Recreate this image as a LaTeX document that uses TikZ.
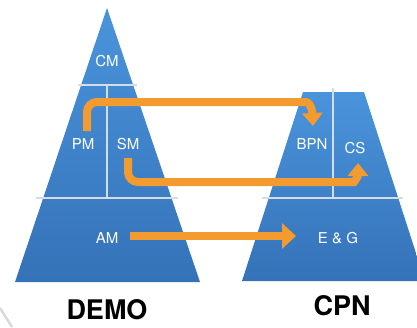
\documentclass[tikz,border=0pt]{standalone}
\usepackage{fontspec}
\setmainfont{TeX Gyre Heros}
\usetikzlibrary{arrows.meta}
\definecolor{pyrtop}{HTML}{4A94DC}
\definecolor{pyrbot}{HTML}{3572B8}
\definecolor{orng}{HTML}{F39B2E}
\definecolor{divline}{HTML}{D4DDE6}
\tikzset{
  pyr/.style={top color=pyrtop,bottom color=pyrbot,draw=none},
  lbl/.style={text=white,font=\fontsize{15}{15}\selectfont,inner sep=0pt},
  title/.style={text=black,font=\fontsize{27}{27}\selectfont\bfseries,inner sep=0pt},
  divider/.style={draw=divline,line width=1.2pt},
  flow/.style={draw=orng,line width=8pt,rounded corners=10pt},
  headA/.style={-{Triangle[width=20pt,length=13pt]}},
  headB/.style={-{Triangle[width=25pt,length=14pt]}}
}
\begin{document}
\begin{tikzpicture}[x=1pt,y=-1pt]
\useasboundingbox (0,0) rectangle (417,327);
\fill[white] (0,0) rectangle (417,327);
% faint corner stroke
\draw[gray!30,line width=2.5pt] (0,308) -- (12,327);
% DEMO pyramid
\path[pyr] (107,8) -- (200,282) -- (15,282) -- cycle;
\draw[divider] (78,85) -- (137,85);
\draw[divider] (36,198) -- (178,198);
\draw[divider] (107,85) -- (107,198);
% CPN trapezoid
\path[pyr] (303,92) -- (364,92) -- (425,281) -- (242,281) -- cycle;
\draw[divider] (333,88) -- (333,198);
\draw[divider] (262,198) -- (403,198);
% labels
\node[lbl] (cm) at (107,61) {CM};
\node[lbl] (pm) at (83,144) {PM};
\node[lbl] (sm) at (128,144) {SM};
\node[lbl] (am) at (107,238) {AM};
\node[lbl] (bpn) at (312,144) {BPN};
\node[lbl] (cs) at (355,148) {CS};
\node[lbl] (eg) at (338,238) {E \& G};
\node[title] (demo) at (107,310) {DEMO};
\node[title] (cpn) at (342,306) {CPN};
% arrow anchor points
\coordinate (p1s) at (87,131);
\coordinate (p1e) at (313,126);
\coordinate (p2s) at (128,158);
\coordinate (p2e) at (358,163);
\coordinate (p3s) at (130,236);
\coordinate (p3e) at (296,236);
% arrows
\draw[flow,headA] (p1s) -- (87,102) -- (296,102) [sharp corners] .. controls (308,102) and (312,106) .. (p1e);
\draw[flow,headA] (p2s) -- (128,182) -- (344,182) [sharp corners] .. controls (354,182) and (358,177) .. (p2e);
\draw[flow,headB] (p3s) -- (p3e);
\end{tikzpicture}
\end{document}
